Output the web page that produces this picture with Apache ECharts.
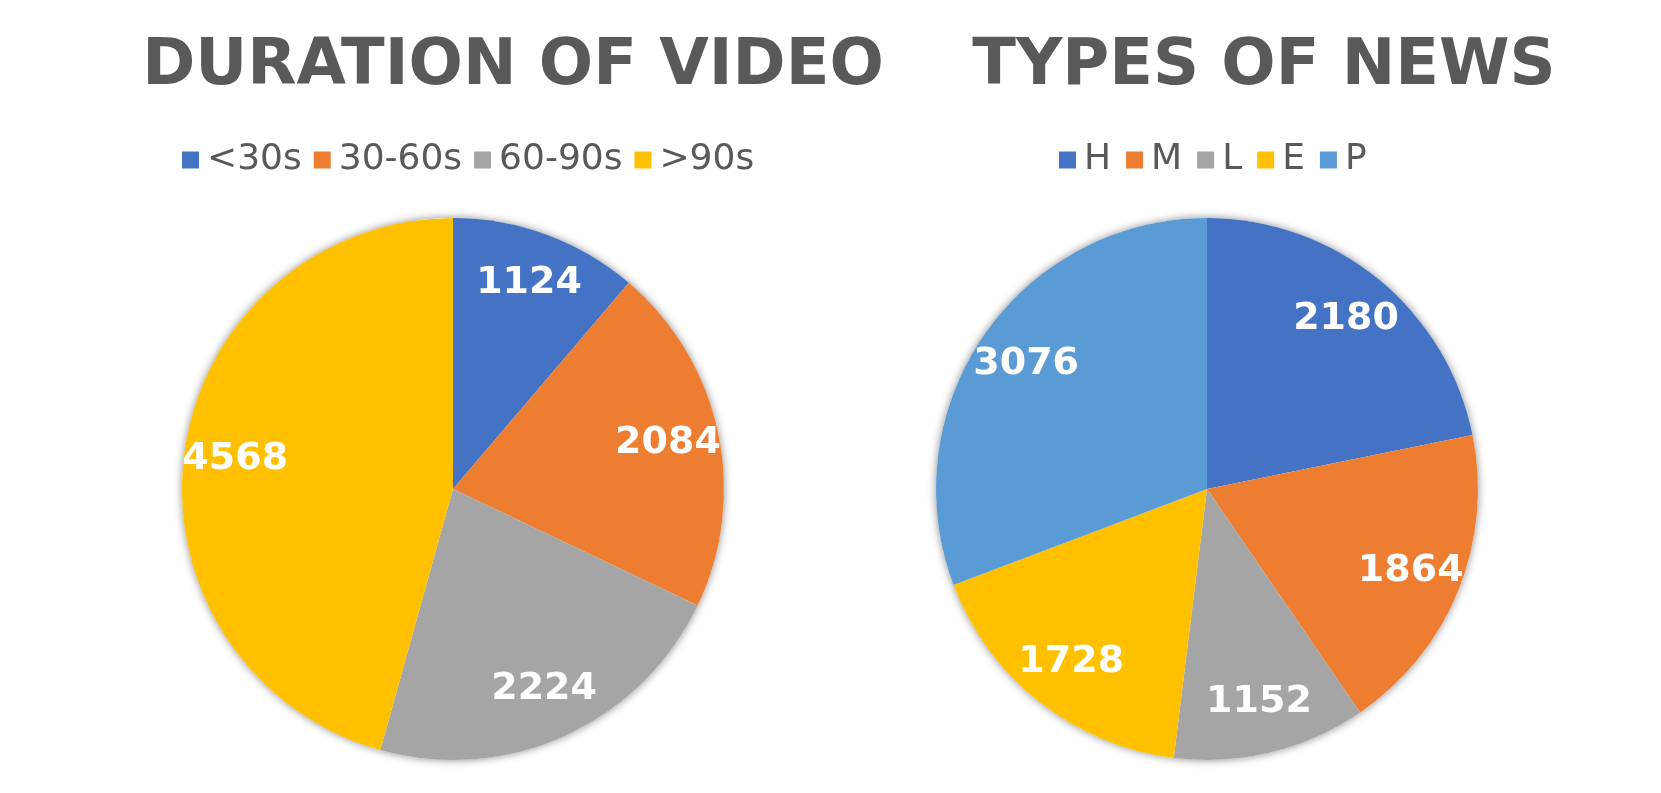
<!DOCTYPE html>
<html>
<head>
<meta charset="utf-8">
<script src="https://cdn.jsdelivr.net/npm/echarts@6/dist/echarts.min.js"></script>
<style>html,body{margin:0;padding:0;background:#fff}#c{width:1661px;height:793px}</style>
</head>
<body>
<div id="c"></div>
<script>
const videoTitle = 'DURATION OF VIDEO';
const videoCategories = ['<30s', '30-60s', '60-90s', '>90s'];
const videoValues = [1124, 2084, 2224, 4568];
const videoColors = ['#4472C4', '#ED7D31', '#A5A5A5', '#FFC000'];

const newsTitle = 'TYPES OF NEWS';
const newsCategories = ['H', 'M', 'L', 'E', 'P'];
const newsValues = [2180, 1864, 1152, 1728, 3076];
const newsColors = ['#4472C4', '#ED7D31', '#A5A5A5', '#FFC000', '#5B9BD5'];

const FONT = 'DejaVu Sans';
const R = 271;
const leftCenter = [453, 489];
const rightCenter = [1207, 489];

function toData(cats, vals, colors) {
  return cats.map((c, i) => ({ name: c, value: vals[i], itemStyle: { color: colors[i] } }));
}
function sum(a) { return a.reduce((s, v) => s + v, 0); }

function pieSeries(center, cats, vals, colors) {
  return [
    {
      type: 'pie', center: center, radius: R, silent: true, z: 1,
      label: { show: false }, labelLine: { show: false },
      itemStyle: { color: '#ffffff', shadowBlur: 8, shadowColor: 'rgba(0,0,0,0.45)' },
      data: [{ name: '__bg', value: sum(vals) }]
    },
    {
      type: 'pie', center: center, radius: R, z: 2,
      label: { show: false }, labelLine: { show: false },
      data: toData(cats, vals, colors)
    },
    {
      type: 'pie', center: center, radius: [R * 0.6, R], z: 3, silent: true,
      itemStyle: { color: 'transparent' },
      label: {
        show: true, position: 'inside', formatter: '{c}',
        color: '#ffffff', fontFamily: FONT, fontWeight: 'bold', fontSize: 38
      },
      labelLine: { show: false },
      data: cats.map((c, i) => ({ name: c, value: vals[i] }))
    }
  ];
}

const chart = echarts.init(document.getElementById('c'), null, { renderer: 'canvas' });
chart.setOption({
  animation: false,
  backgroundColor: '#ffffff',
  title: [
    { text: videoTitle, left: 508, top: 30, textAlign: 'center',
      textStyle: { fontFamily: FONT, fontWeight: 'bold', fontSize: 64, color: '#595959' } },
    { text: newsTitle, left: 1259, top: 30, textAlign: 'center',
      textStyle: { fontFamily: FONT, fontWeight: 'bold', fontSize: 64, color: '#595959' } }
  ],
  legend: [
    { data: videoCategories, left: 177, top: 137, icon: 'rect', itemWidth: 17, itemHeight: 17, itemGap: 12,
      textStyle: { fontFamily: FONT, fontSize: 36, color: '#595959', padding: [0, 0, 0, 3] } },
    { data: newsCategories, left: 1054, top: 137, icon: 'rect', itemWidth: 17, itemHeight: 17, itemGap: 15,
      textStyle: { fontFamily: FONT, fontSize: 36, color: '#595959', padding: [0, 0, 0, 3] } }
  ],
  series: [].concat(
    pieSeries(leftCenter, videoCategories, videoValues, videoColors),
    pieSeries(rightCenter, newsCategories, newsValues, newsColors)
  )
});
</script>
</body>
</html>
